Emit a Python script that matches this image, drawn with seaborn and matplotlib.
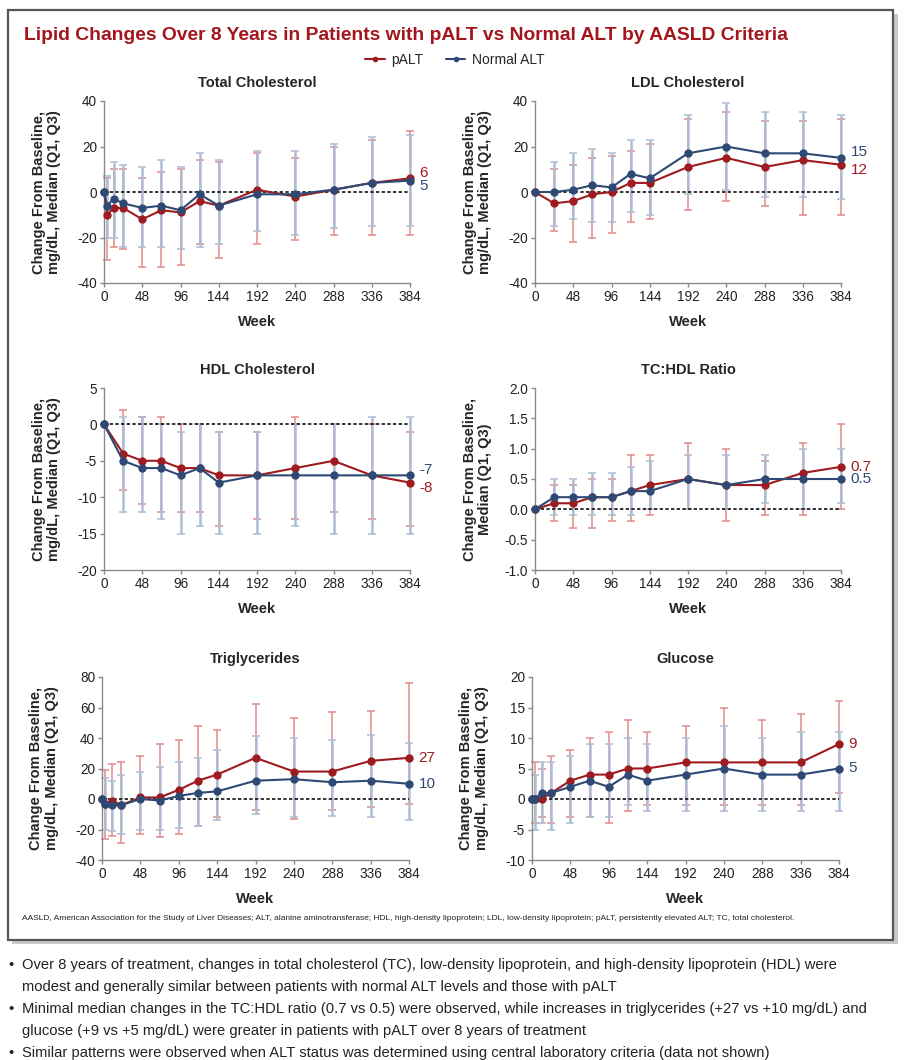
import numpy as np
import pandas as pd
import seaborn as sns
import matplotlib.pyplot as plt
from matplotlib.lines import Line2D
from matplotlib.patches import Rectangle

# ---- data ----
weeks_long = [0, 4, 12, 24, 48, 72, 96, 120, 144, 192, 240, 288, 336, 384]
weeks_short = [0, 24, 48, 72, 96, 120, 144, 192, 240, 288, 336, 384]

tc_palt = [0, -10, -7, -7, -12, -8, -9, -4, -6, 1, -2, 1, 4, 6]
tc_normal = [0, -6, -3, -5, -7, -6, -8, -1, -6, -1, -1, 1, 4, 5]
tc_palt_q1 = [0, -30, -24, -25, -33, -33, -32, -23, -29, -23, -21, -19, -19, -19]
tc_palt_q3 = [0, 6, 10, 10, 6, 9, 10, 14, 13, 17, 15, 20, 23, 27]
tc_normal_q1 = [0, -20, -20, -24, -24, -24, -25, -24, -23, -17, -19, -16, -15, -15]
tc_normal_q3 = [0, 7, 13, 12, 11, 14, 11, 17, 14, 18, 18, 21, 24, 25]

ldl_palt = [0, -5, -4, -1, 0, 4, 4, 11, 15, 11, 14, 12]
ldl_normal = [0, 0, 1, 3, 2, 8, 6, 17, 20, 17, 17, 15]
ldl_palt_q1 = [0, -17, -22, -20, -18, -13, -12, -8, -4, -6, -10, -10]
ldl_palt_q3 = [0, 10, 12, 15, 16, 18, 21, 32, 35, 31, 31, 32]
ldl_normal_q1 = [0, -15, -12, -13, -13, -9, -10, -1, 1, -2, -2, -3]
ldl_normal_q3 = [0, 13, 17, 19, 17, 23, 23, 34, 39, 35, 35, 34]

hdl_palt = [0, -4, -5, -5, -6, -6, -7, -7, -6, -5, -7, -8]
hdl_normal = [0, -5, -6, -6, -7, -6, -8, -7, -7, -7, -7, -7]
hdl_palt_q1 = [0, -9, -11, -12, -12, -12, -14, -13, -13, -12, -13, -14]
hdl_palt_q3 = [0, 2, 1, 1, 0, 0, -1, -1, 1, 0, 0, -1]
hdl_normal_q1 = [0, -12, -12, -13, -15, -14, -15, -15, -14, -15, -15, -15]
hdl_normal_q3 = [0, 1, 1, 0, -1, 0, -1, -1, 0, 0, 1, 1]

ratio_palt = [0, 0.1, 0.1, 0.2, 0.2, 0.3, 0.4, 0.5, 0.4, 0.4, 0.6, 0.7]
ratio_normal = [0, 0.2, 0.2, 0.2, 0.2, 0.3, 0.3, 0.5, 0.4, 0.5, 0.5, 0.5]
ratio_palt_q1 = [0, -0.2, -0.3, -0.3, -0.2, -0.2, -0.1, 0.0, -0.2, -0.1, -0.1, 0.0]
ratio_palt_q3 = [0, 0.4, 0.4, 0.5, 0.5, 0.9, 0.9, 1.1, 1.0, 0.8, 1.1, 1.4]
ratio_normal_q1 = [0, -0.1, -0.1, -0.1, -0.1, -0.1, 0.0, 0.0, 0.0, 0.1, 0.0, 0.1]
ratio_normal_q3 = [0, 0.5, 0.5, 0.6, 0.6, 0.7, 0.8, 0.9, 0.9, 0.9, 1.0, 1.0]

tg_palt = [0, -3, -1, -4, 1, 1, 6, 12, 16, 27, 18, 18, 25, 27]
tg_normal = [0, -3, -4, -4, 0, -1, 2, 4, 5, 12, 13, 11, 12, 10]
tg_palt_q1 = [0, -26, -24, -29, -23, -25, -23, -18, -12, -7, -13, -7, -5, -3]
tg_palt_q3 = [0, 19, 23, 24, 28, 36, 39, 48, 45, 62, 53, 57, 58, 76]
tg_normal_q1 = [0, -20, -21, -23, -20, -20, -19, -18, -14, -10, -12, -11, -12, -14]
tg_normal_q3 = [0, 14, 12, 16, 18, 21, 24, 27, 32, 41, 40, 39, 42, 37]

glu_palt = [0, 0, 0, 1, 3, 4, 4, 5, 5, 6, 6, 6, 6, 9]
glu_normal = [0, 0, 1, 1, 2, 3, 2, 4, 3, 4, 5, 4, 4, 5]
glu_palt_q1 = [0, -4, -3, -4, -3, -3, -4, -2, -1, -1, -1, -1, -1, 1]
glu_palt_q3 = [0, 6, 5, 7, 8, 10, 11, 13, 11, 12, 15, 13, 14, 16]
glu_normal_q1 = [0, -5, -4, -5, -4, -3, -3, -1, -2, -2, -2, -2, -2, -2]
glu_normal_q3 = [0, 4, 6, 6, 7, 9, 9, 10, 9, 10, 12, 10, 11, 11]

ylabel_mg = "Change From Baseline,\nmg/dL, Median (Q1, Q3)"
ylabel_ratio = "Change From Baseline,\nMedian (Q1, Q3)"

panels = [
    ("Total Cholesterol", weeks_long, tc_palt, tc_normal, tc_palt_q1, tc_palt_q3,
     tc_normal_q1, tc_normal_q3, (-40, 40, 20), ylabel_mg, "{:g}"),
    ("LDL Cholesterol", weeks_short, ldl_palt, ldl_normal, ldl_palt_q1, ldl_palt_q3,
     ldl_normal_q1, ldl_normal_q3, (-40, 40, 20), ylabel_mg, "{:g}"),
    ("HDL Cholesterol", weeks_short, hdl_palt, hdl_normal, hdl_palt_q1, hdl_palt_q3,
     hdl_normal_q1, hdl_normal_q3, (-20, 5, 5), ylabel_mg, "{:g}"),
    ("TC:HDL Ratio", weeks_short, ratio_palt, ratio_normal, ratio_palt_q1, ratio_palt_q3,
     ratio_normal_q1, ratio_normal_q3, (-1.0, 2.0, 0.5), ylabel_ratio, "{:.1f}"),
    ("Triglycerides", weeks_long, tg_palt, tg_normal, tg_palt_q1, tg_palt_q3,
     tg_normal_q1, tg_normal_q3, (-40, 80, 20), ylabel_mg, "{:g}"),
    ("Glucose", weeks_long, glu_palt, glu_normal, glu_palt_q1, glu_palt_q3,
     glu_normal_q1, glu_normal_q3, (-10, 20, 5), ylabel_mg, "{:g}"),
]

# axes boxes in pixels: left, right, top, bottom
boxes = [(104, 410, 101, 283), (535, 841, 101, 283),
         (104, 410, 388, 570), (535, 841, 388, 570),
         (102, 409, 677, 860), (532, 839, 677, 860)]

RED = "#9e1b20"
BLUE = "#2e4a74"
RED_LIGHT = "#e28a8a"
BLUE_LIGHT = "#aebdd3"

sns.set_style("ticks")
plt.rcParams["font.family"] = ["Liberation Sans", "DejaVu Sans"]

W, H = 910, 1060
fig = plt.figure(figsize=(W / 100, H / 100), dpi=100)

# frame with shadow
fig.patches.append(Rectangle((12 / W, 1 - 944 / H), 886 / W, 930 / H, transform=fig.transFigure,
                             facecolor="#c9c9c9", edgecolor="none", zorder=-3))
fig.patches.append(Rectangle((8 / W, 1 - 940 / H), 885 / W, 930 / H, transform=fig.transFigure,
                             facecolor="white", edgecolor="#555555", lw=1.6, zorder=-2))

for (title, weeks, palt, normal, pq1, pq3, nq1, nq3, ylim, ylabel, fmt), (x0, x1, yt, yb) in zip(panels, boxes):
    ax = fig.add_axes([x0 / W, 1 - yb / H, (x1 - x0) / W, (yb - yt) / H])
    ax.set_facecolor("none")

    df = pd.DataFrame({
        "week": list(weeks) * 2,
        "median": list(palt) + list(normal),
        "group": ["pALT"] * len(weeks) + ["Normal ALT"] * len(weeks),
    })

    # Q1-Q3 bars
    p = np.array(palt, float)
    n = np.array(normal, float)
    ax.errorbar(weeks, p, yerr=[p - np.array(pq1), np.array(pq3) - p], fmt="none",
                ecolor=RED_LIGHT, elinewidth=1.1, capsize=3, capthick=1.1, zorder=1, clip_on=False)
    ax.errorbar(weeks, n, yerr=[n - np.array(nq1), np.array(nq3) - n], fmt="none",
                ecolor=BLUE_LIGHT, elinewidth=1.8, capsize=3, capthick=1.1, zorder=1.5, clip_on=False)

    ax.axhline(0, color="#111111", ls=(0, (2, 1.4)), lw=1.2, zorder=2)

    sns.lineplot(data=df, x="week", y="median", hue="group", hue_order=["pALT", "Normal ALT"],
                 palette={"pALT": RED, "Normal ALT": BLUE}, marker="o", markersize=6,
                 markeredgewidth=0, linewidth=1.5, legend=False, ax=ax, zorder=3, clip_on=False)

    ax.set_xlim(0, 384)
    ax.set_xticks(range(0, 385, 48))
    lo, hi, step = ylim
    ax.set_ylim(lo, hi)
    yt_vals = np.arange(lo, hi + step / 2, step)
    ax.set_yticks(yt_vals)
    ax.set_yticklabels([fmt.format(v) for v in yt_vals])

    for side in ["top", "right"]:
        ax.spines[side].set_visible(False)
    for side in ["left", "bottom"]:
        ax.spines[side].set_color("#8a8a8a")
        ax.spines[side].set_linewidth(1.0)
    ax.tick_params(axis="both", length=3, width=1, color="#8a8a8a", labelsize=9.8,
                   labelcolor="#222222", pad=2)

    ax.set_title(title, fontsize=10.5, fontweight="bold", pad=10)
    ax.set_xlabel("Week", fontsize=10.5, fontweight="bold", labelpad=8)
    ax.set_ylabel(ylabel, fontsize=10.5, fontweight="bold", linespacing=1.15)
    ax.yaxis.set_label_coords(-0.14, 0.5)

    # end-of-line value labels
    last_p, last_n = palt[-1], normal[-1]
    close = abs(last_p - last_n) / (hi - lo) < 0.06
    dp = (4 if last_p > last_n else -4) if close else 0
    for val, col, dy in [(last_p, RED, dp), (last_n, BLUE, -dp)]:
        ax.annotate(fmt.format(val), xy=(384, val),
                    xytext=(7, dy), textcoords="offset points", va="center", ha="left",
                    color=col, fontsize=11, annotation_clip=False)

fig.text(24 / W, 1 - 35 / H,
         "Lipid Changes Over 8 Years in Patients with pALT vs Normal ALT by AASLD Criteria",
         color="#a3161c", fontsize=13.9, fontweight="bold", va="center")

handles = [Line2D([], [], color=RED, marker="o", markersize=4, lw=1.5, markeredgewidth=0),
           Line2D([], [], color=BLUE, marker="o", markersize=4, lw=1.5, markeredgewidth=0)]
fig.legend(handles, ["pALT", "Normal ALT"], loc="center", bbox_to_anchor=(455 / W, 1 - 60 / H),
           ncol=2, frameon=False, fontsize=10, handlelength=1.4, handletextpad=0.5,
           columnspacing=1.6)

fig.text(22 / W, 1 - 918 / H,
         "AASLD, American Association for the Study of Liver Diseases; ALT, alanine aminotransferase; "
         "HDL, high-density lipoprotein; LDL, low-density lipoprotein; pALT, persistently elevated ALT; "
         "TC, total cholesterol.",
         fontsize=6, va="center", color="#222222")

bullets = [
    ["Over 8 years of treatment, changes in total cholesterol (TC), low-density lipoprotein, and high-density lipoprotein (HDL) were",
     "modest and generally similar between patients with normal ALT levels and those with pALT"],
    ["Minimal median changes in the TC:HDL ratio (0.7 vs 0.5) were observed, while increases in triglycerides (+27 vs +10 mg/dL) and",
     "glucose (+9 vs +5 mg/dL) were greater in patients with pALT over 8 years of treatment"],
    ["Similar patterns were observed when ALT status was determined using central laboratory criteria (data not shown)"],
]
y = 965
for lines in bullets:
    fig.text(8 / W, 1 - y / H, "•", fontsize=10.6, va="center", color="#222222")
    for line in lines:
        fig.text(22 / W, 1 - y / H, line, fontsize=10.6, va="center", color="#222222")
        y += 21.5
    y += 1

fig.savefig("out.png", dpi=100)
